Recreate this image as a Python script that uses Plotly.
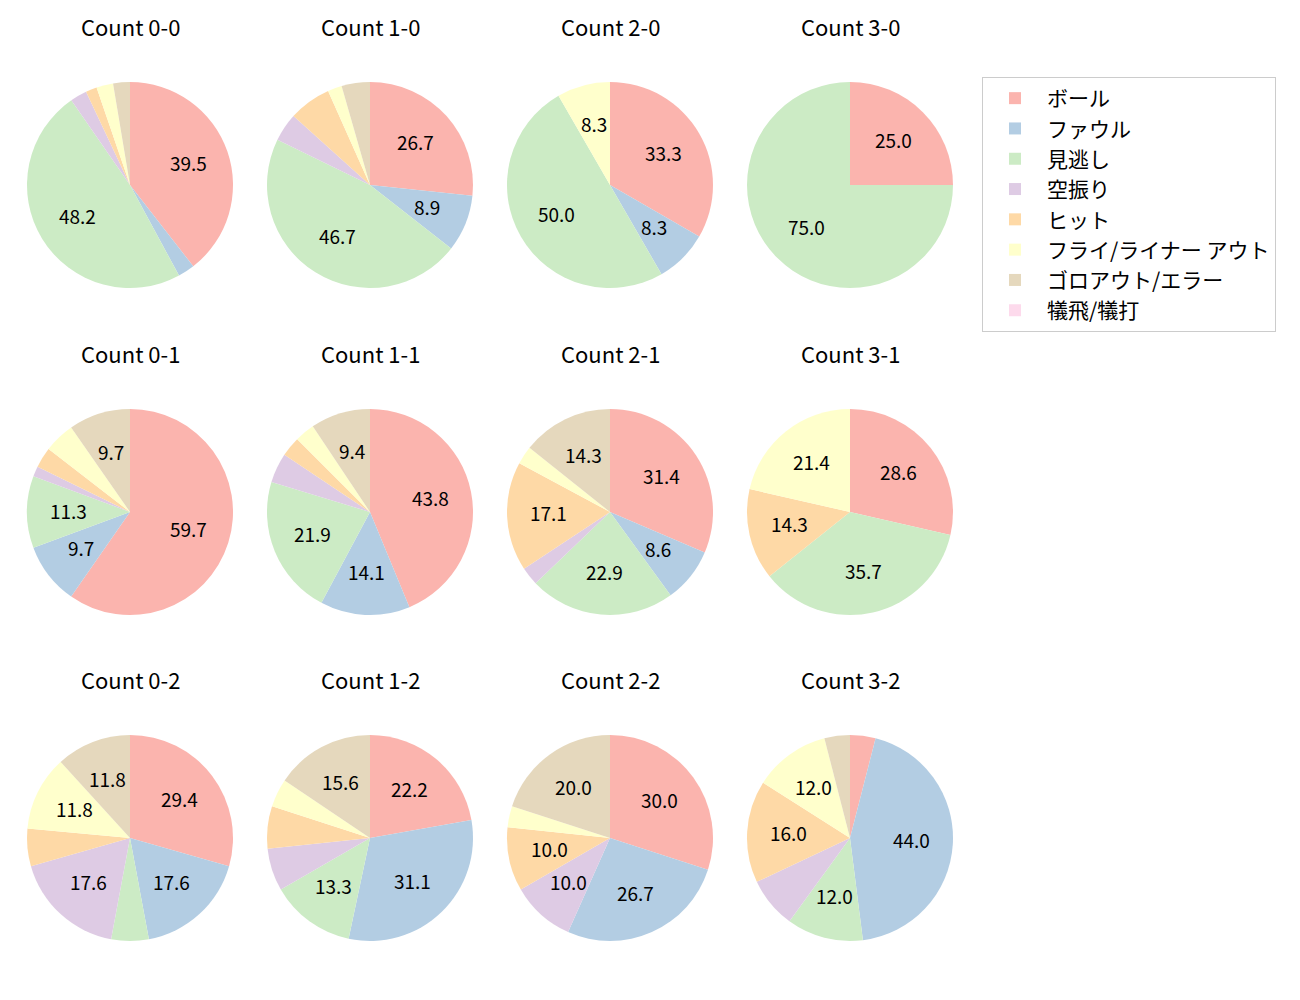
import math
import plotly.graph_objects as go

# ---- data ----
categories = ["ボール", "ファウル", "見逃し", "空振り", "ヒット",
              "フライ/ライナー アウト", "ゴロアウト/エラー", "犠飛/犠打"]
colors = ["#fbb4ae", "#b3cde3", "#ccebc5", "#decbe4", "#fed9a6",
          "#ffffcc", "#e5d8bd", "#fddaec"]

counts = ["0-0", "1-0", "2-0", "3-0",
          "0-1", "1-1", "2-1", "3-1",
          "0-2", "1-2", "2-2", "3-2"]

v_0_0 = [45, 3, 55, 3, 2, 3, 3, 0]
v_1_0 = [12, 4, 21, 2, 3, 1, 2, 0]
v_2_0 = [4, 1, 6, 0, 0, 1, 0, 0]
v_3_0 = [1, 0, 3, 0, 0, 0, 0, 0]
v_0_1 = [37, 6, 7, 1, 2, 3, 6, 0]
v_1_1 = [28, 9, 14, 3, 2, 2, 6, 0]
v_2_1 = [11, 3, 8, 1, 6, 1, 5, 0]
v_3_1 = [4, 0, 5, 0, 2, 3, 0, 0]
v_0_2 = [5, 3, 1, 3, 1, 2, 2, 0]
v_1_2 = [10, 14, 6, 3, 3, 2, 7, 0]
v_2_2 = [9, 8, 0, 3, 3, 1, 6, 0]
v_3_2 = [1, 11, 3, 2, 4, 3, 1, 0]

values = [v_0_0, v_1_0, v_2_0, v_3_0,
          v_0_1, v_1_1, v_2_1, v_3_1,
          v_0_2, v_1_2, v_2_2, v_3_2]

# ---- layout geometry ----
W, H = 1300, 1000
OFF = 8  # page body margin
col_cx = [130 - OFF, 370 - OFF, 610 - OFF, 850 - OFF]
row_cy = [185 - OFF, 512 - OFF, 838 - OFF]
TITLE_DY = 159
LABEL_DY = 2
R = 103
FONT = "Noto Sans CJK JP"

fig = go.Figure()
annotations = []

for i, (name, vals) in enumerate(zip(counts, values)):
    r, c = divmod(i, 4)
    cx, cy = col_cx[c], row_cy[r]
    fig.add_trace(go.Pie(
        labels=categories,
        values=vals,
        marker=dict(colors=colors, line=dict(width=0)),
        sort=False,
        direction="clockwise",
        rotation=0,
        textinfo="none",
        hoverinfo="label+value+percent",
        showlegend=(i == 0),
        domain=dict(x=[(cx - R) / W, (cx + R) / W],
                    y=[1 - (cy + R) / H, 1 - (cy - R) / H]),
    ))
    total = sum(vals)
    cum = 0
    for v in vals:
        p = 100 * v / total
        if v > 0 and p > 8.05:
            ang = math.radians(90 - 360 * (cum + v / 2) / total)
            tx = cx + 0.6 * R * math.cos(ang)
            ty = cy - 0.6 * R * math.sin(ang) - LABEL_DY
            annotations.append(dict(
                x=tx / W, y=1 - ty / H, xref="paper", yref="paper",
                text=f"{p:.1f}", showarrow=False,
                xanchor="center", yanchor="middle",
                font=dict(family=FONT, size=19, color="#000000")))
        cum += v
    annotations.append(dict(
        x=cx / W, y=1 - (cy - TITLE_DY) / H,
        xref="paper", yref="paper", text=f"Count {name}", showarrow=False,
        xanchor="center", yanchor="middle",
        font=dict(family=FONT, size=22, color="#000000")))

fig.update_layout(
    width=W, height=H,
    margin=dict(l=0, r=0, t=0, b=0),
    paper_bgcolor="white",
    plot_bgcolor="white",
    font=dict(family=FONT, size=20, color="#000000"),
    annotations=annotations,
    legend=dict(
        x=(982 - OFF) / W, y=1 - (77 - OFF) / H, xanchor="left", yanchor="top",
        bordercolor="#cccccc", borderwidth=1, bgcolor="white",
        font=dict(family=FONT, size=21, color="#000000"),
        itemwidth=54,
        traceorder="normal",
    ),
)

fig.write_html("out.html")
